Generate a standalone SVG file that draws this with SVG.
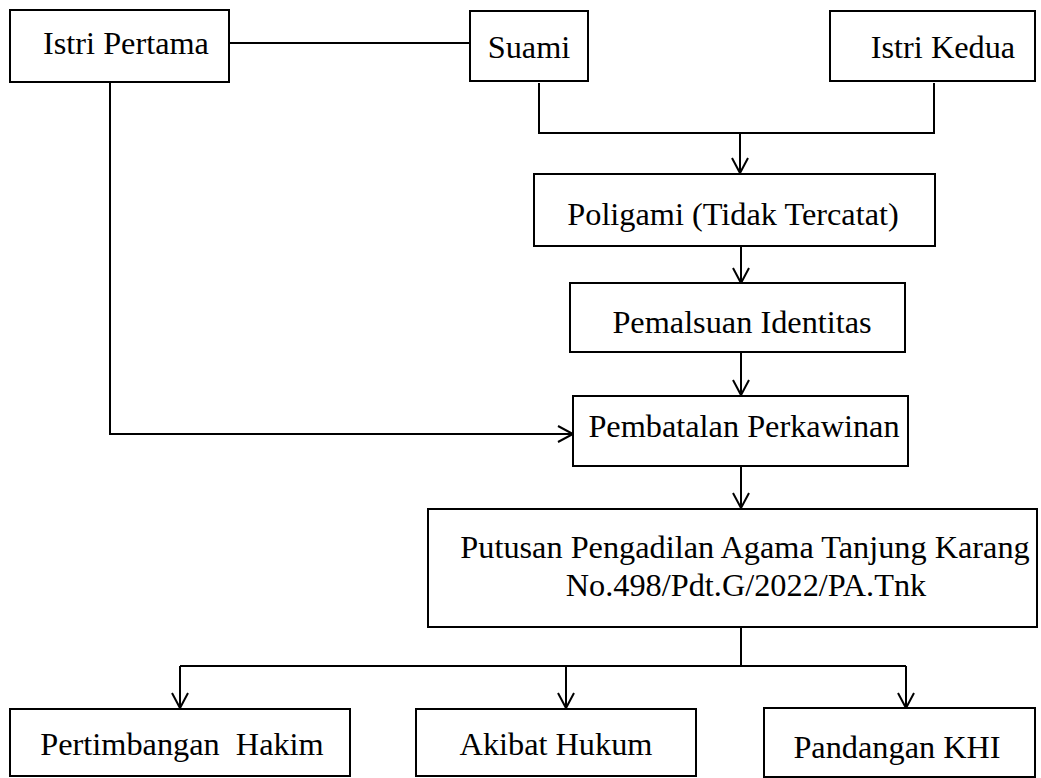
<svg xmlns="http://www.w3.org/2000/svg" width="1041" height="778" viewBox="0 0 1041 778">
<style>
.box{fill:#fff;stroke:#000;stroke-width:2}
.t{font-family:"Liberation Serif","Times New Roman",serif;font-size:32.3px;fill:#000;text-anchor:middle}
.c{fill:none;stroke:#000;stroke-width:2}
</style>
<rect width="1041" height="778" fill="#fff"/>
<g id="connectors">
<path class="c" d="M229,43 H470"/>
<path class="c" d="M539,83 V133 H934 V83"/>
<path class="c" d="M740,133 V173"/>
<path class="c" d="M732,158 L740,173 L748,158"/>
<path class="c" d="M741,246 V283"/>
<path class="c" d="M733,268 L741,283 L749,268"/>
<path class="c" d="M741,352 V395"/>
<path class="c" d="M733,380 L741,395 L749,380"/>
<path class="c" d="M110,82 V434 H573"/>
<path class="c" d="M558,426 L573,434 L558,442"/>
<path class="c" d="M741,466 V508"/>
<path class="c" d="M733,493 L741,508 L749,493"/>
<path class="c" d="M741,627 V666 M180,666 H906 M180,666 V708 M566,666 V708 M906,666 V708"/>
<path class="c" d="M172,693 L180,708 L188,693 M558,693 L566,708 L574,693 M898,693 L906,708 L914,693"/>
</g>
<g id="istri-pertama"><rect class="box" x="10" y="10" width="219" height="72"/><text class="t" x="126" y="54">Istri Pertama</text></g>
<g id="suami"><rect class="box" x="470" y="11" width="118" height="70"/><text class="t" x="529" y="58">Suami</text></g>
<g id="istri-kedua"><rect class="box" x="830" y="11" width="205" height="70"/><text class="t" x="943" y="58">Istri Kedua</text></g>
<g id="poligami"><rect class="box" x="534" y="174" width="401" height="72"/><text class="t" x="733" y="225">Poligami (Tidak Tercatat)</text></g>
<g id="pemalsuan"><rect class="box" x="570" y="283" width="335" height="69"/><text class="t" x="742" y="333">Pemalsuan Identitas</text></g>
<g id="pembatalan"><rect class="box" x="573" y="396" width="335" height="70"/><text class="t" x="744" y="437">Pembatalan Perkawinan</text></g>
<g id="putusan"><rect class="box" x="428" y="509" width="609" height="118"/><text class="t" x="745" y="558">Putusan Pengadilan Agama Tanjung Karang</text><text class="t" x="746" y="596">No.498/Pdt.G/2022/PA.Tnk</text></g>
<g id="pertimbangan"><rect class="box" x="10" y="709" width="340" height="67"/><text class="t" x="182" y="755" xml:space="preserve">Pertimbangan  Hakim</text></g>
<g id="akibat"><rect class="box" x="416" y="709" width="280" height="67"/><text class="t" x="556" y="755">Akibat Hukum</text></g>
<g id="pandangan"><rect class="box" x="764" y="708" width="271" height="69"/><text class="t" x="897" y="758">Pandangan KHI</text></g>
</svg>
